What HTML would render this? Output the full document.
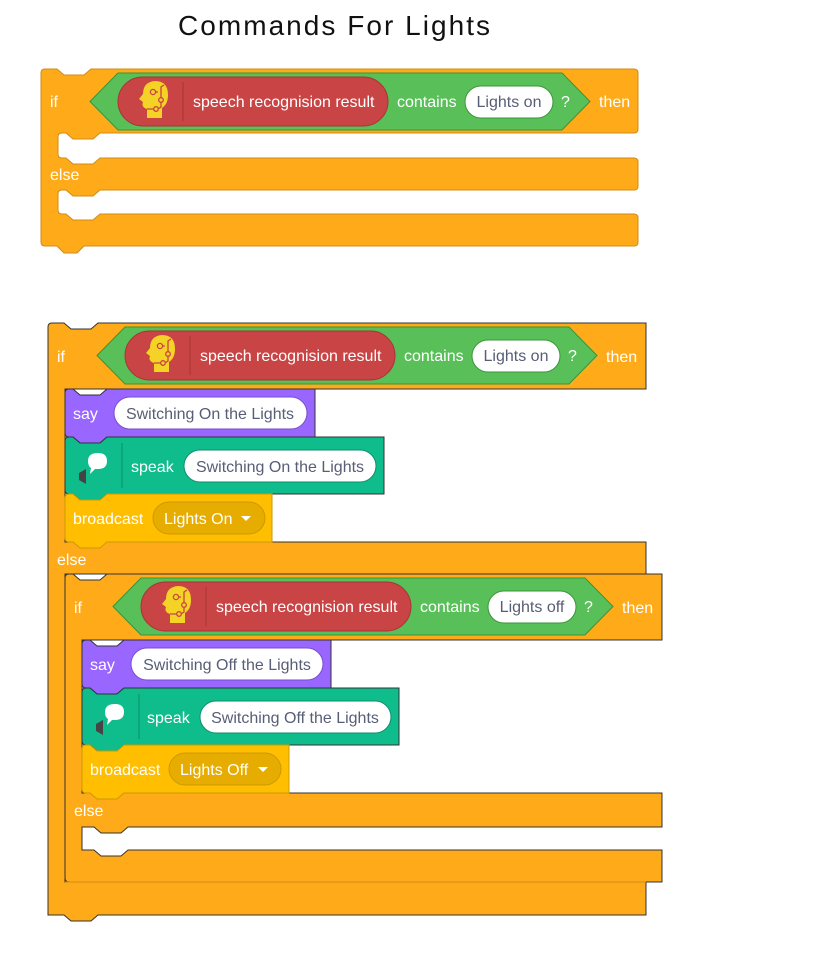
<!DOCTYPE html>
<html><head><meta charset="utf-8"><style>
html,body{margin:0;padding:0;background:#fff;width:819px;height:953px;overflow:hidden}
svg text{font-family:"Liberation Sans",sans-serif}
</style></head><body>
<svg width="819" height="953" viewBox="0 0 819 953" xmlns="http://www.w3.org/2000/svg">
<defs>
<g id="icon">
  <path d="M-8,17 L-8,8 Q-14,6 -12,1 L-16,-2 L-12,-7 Q-12,-19 0,-20 Q13,-20 13,-6 Q13,3 7,7 L7,17 Z" fill="#F5D326"/>
  <circle cx="-2" cy="-9" r="2.6" fill="none" stroke="#C94444" stroke-width="1.3"/>
  <circle cx="6" cy="-1" r="2.3" fill="none" stroke="#C94444" stroke-width="1.3"/>
  <circle cx="1" cy="8" r="2.3" fill="none" stroke="#C94444" stroke-width="1.3"/>
  <path d="M6,-3 L6,-14 L9,-16 M0,-9 L3,-9 M-1,8 L-8,8 M3,8 L6,6 L6,1" fill="none" stroke="#C94444" stroke-width="1.3"/>
</g>
<g id="speakicon">
  <path d="M-12,4 L-5,0 L-5,15 L-12,11 Z" fill="#444"/>
  <path d="M-3,-8 Q-3,-16 7,-16 Q16,-16 16,-8 Q16,0 7,0 L4,0 L-1,5 L0,-1 Q-3,-3 -3,-8 Z" fill="#fff"/>
</g>
</defs>

<text x="178" y="35" font-size="28" textLength="312" lengthAdjust="spacing" fill="#111" style="font-family:'Liberation Sans Narrow','Liberation Sans',sans-serif">Commands For Lights</text>

<!-- ===== Block 1 ===== -->
<g fill="#FFAB19" stroke="#CF8B17" stroke-width="1">
  <path d="M45,69 L57,69 L64,75 L84,75 L91,69 L634,69 Q638,69 638,73 L638,129 Q638,133 634,133 L100,133 L93,139 L73,139 L66,133 L62,133 Q58,133 58,137 L58,154 Q58,158 62,158 L66,158 L73,164 L93,164 L100,158 L634,158 Q638,158 638,162 L638,186 Q638,190 634,190 L100,190 L93,196 L73,196 L66,190 L62,190 Q58,190 58,194 L58,210 Q58,214 62,214 L66,214 L73,220 L93,220 L100,214 L634,214 Q638,214 638,218 L638,242 Q638,246 634,246 L84,246 L77,253 L64,253 L57,246 L45,246 Q41,246 41,242 L41,73 Q41,69 45,69 Z"/>
</g>
<text x="50" y="107" font-size="16" fill="#fff">if</text>
<text x="50" y="180" font-size="16" fill="#fff">else</text>
<text x="599" y="107" font-size="16" fill="#fff">then</text>
<g transform="translate(90,73)">
  <path d="M0,28.5 L28,0 L472,0 L500,28.5 L472,57 L28,57 Z" fill="#59C059" stroke="#389438"/>
  <rect x="28" y="4" width="270" height="49" rx="24.5" fill="#C94444" stroke="#A83535"/>
  <use href="#icon" x="65" y="28"/>
  <line x1="93" y1="9" x2="93" y2="48" stroke="#A83535"/>
  <text x="103" y="34" font-size="16" fill="#fff">speech recognision result</text>
  <text x="307" y="34" font-size="16" fill="#fff">contains</text>
  <rect x="375" y="13" width="88" height="32" rx="16" fill="#fff" stroke="#389438"/>
  <text x="419" y="34" font-size="16" fill="#575E75" text-anchor="middle">Lights on</text>
  <text x="471" y="34" font-size="16" fill="#fff">?</text>
</g>

<!-- ===== Block 2 outer ===== -->
<g fill="#FFAB19" stroke="#333" stroke-width="1">
  <path d="M52,323 L64,323 L71,329 L91,329 L98,323 L646,323 L646,389 L65,389 L65,542 L646,542 L646,574 L65,574 L65,882 L646,882 L646,915 L98,915 L91,921 L71,921 L64,915 L48,915 L48,327 Q48,323 52,323 Z"/>
</g>
<text x="57" y="362" font-size="16" fill="#fff">if</text>
<text x="57" y="565" font-size="16" fill="#fff">else</text>
<text x="606" y="362" font-size="16" fill="#fff">then</text>
<g transform="translate(97,327)">
  <path d="M0,28.5 L28,0 L472,0 L500,28.5 L472,57 L28,57 Z" fill="#59C059" stroke="#389438"/>
  <rect x="28" y="4" width="270" height="49" rx="24.5" fill="#C94444" stroke="#A83535"/>
  <use href="#icon" x="65" y="28"/>
  <line x1="93" y1="9" x2="93" y2="48" stroke="#A83535"/>
  <text x="103" y="34" font-size="16" fill="#fff">speech recognision result</text>
  <text x="307" y="34" font-size="16" fill="#fff">contains</text>
  <rect x="375" y="13" width="88" height="32" rx="16" fill="#fff" stroke="#389438"/>
  <text x="419" y="34" font-size="16" fill="#575E75" text-anchor="middle">Lights on</text>
  <text x="471" y="34" font-size="16" fill="#fff">?</text>
</g>

<!-- say / speak / broadcast (on) -->
<path d="M69,389 L73,389 L80,395 L100,395 L107,389 L315,389 L315,437 L107,437 L100,443 L80,443 L73,437 L69,437 Q65,437 65,433 L65,393 Q65,389 69,389 Z" fill="#9966FF" stroke="#333"/>
<text x="73" y="419" font-size="16" fill="#fff">say</text>
<rect x="114" y="397" width="193" height="32" rx="16" fill="#fff" stroke="#774DCB"/>
<text x="210" y="419" font-size="16" fill="#575E75" text-anchor="middle">Switching On the Lights</text>

<path d="M69,437 L73,437 L80,443 L100,443 L107,437 L384,437 L384,494 L107,494 L100,500 L80,500 L73,494 L69,494 Q65,494 65,490 L65,441 Q65,437 69,437 Z" fill="#0FBD8C" stroke="#333"/>
<use href="#speakicon" x="91" y="469"/>
<line x1="122" y1="443" x2="122" y2="488" stroke="#0B8E69"/>
<text x="131" y="472" font-size="16" fill="#fff">speak</text>
<rect x="184" y="450" width="192" height="32" rx="16" fill="#fff" stroke="#0B8E69"/>
<text x="280" y="472" font-size="16" fill="#575E75" text-anchor="middle">Switching On the Lights</text>

<path d="M69,494 L73,494 L80,500 L100,500 L107,494 L272,494 L272,542 L107,542 L100,548 L80,548 L73,542 L69,542 Q65,542 65,538 L65,498 Q65,494 69,494 Z" fill="#FFBF00" stroke="#CC9900"/>
<text x="73" y="524" font-size="16" fill="#fff">broadcast</text>
<rect x="153" y="502" width="112" height="32" rx="16" fill="#E6AC00" stroke="#CC9900"/>
<text x="164" y="524" font-size="16" fill="#fff">Lights On</text>
<path d="M241,516 L251,516 L246,521 Z" fill="#fff"/>

<!-- ===== inner if ===== -->
<path d="M69,574 L73,574 L80,580 L100,580 L107,574 L662,574 L662,640 L82,640 L82,793 L662,793 L662,827 L128,827 L121,833 L101,833 L94,827 L82,827 L82,850 L94,850 L101,856 L121,856 L128,850 L662,850 L662,882 L69,882 Q65,882 65,878 L65,578 Q65,574 69,574 Z" fill="#FFAB19" stroke="#333"/>
<line x1="65" y1="882" x2="646" y2="882" stroke="#CF8B17"/>
<text x="74" y="613" font-size="16" fill="#fff">if</text>
<text x="74" y="816" font-size="16" fill="#fff">else</text>
<text x="622" y="613" font-size="16" fill="#fff">then</text>
<g transform="translate(113,578)">
  <path d="M0,28.5 L28,0 L472,0 L500,28.5 L472,57 L28,57 Z" fill="#59C059" stroke="#389438"/>
  <rect x="28" y="4" width="270" height="49" rx="24.5" fill="#C94444" stroke="#A83535"/>
  <use href="#icon" x="65" y="28"/>
  <line x1="93" y1="9" x2="93" y2="48" stroke="#A83535"/>
  <text x="103" y="34" font-size="16" fill="#fff">speech recognision result</text>
  <text x="307" y="34" font-size="16" fill="#fff">contains</text>
  <rect x="375" y="13" width="88" height="32" rx="16" fill="#fff" stroke="#389438"/>
  <text x="419" y="34" font-size="16" fill="#575E75" text-anchor="middle">Lights off</text>
  <text x="471" y="34" font-size="16" fill="#fff">?</text>
</g>

<path d="M86,640 L90,640 L97,646 L117,646 L124,640 L331,640 L331,688 L124,688 L117,694 L97,694 L90,688 L86,688 Q82,688 82,684 L82,644 Q82,640 86,640 Z" fill="#9966FF" stroke="#333"/>
<text x="90" y="670" font-size="16" fill="#fff">say</text>
<rect x="131" y="648" width="192" height="32" rx="16" fill="#fff" stroke="#774DCB"/>
<text x="227" y="670" font-size="16" fill="#575E75" text-anchor="middle">Switching Off the Lights</text>

<path d="M86,688 L90,688 L97,694 L117,694 L124,688 L399,688 L399,745 L124,745 L117,751 L97,751 L90,745 L86,745 Q82,745 82,741 L82,692 Q82,688 86,688 Z" fill="#0FBD8C" stroke="#333"/>
<use href="#speakicon" x="108" y="720"/>
<line x1="139" y1="694" x2="139" y2="739" stroke="#0B8E69"/>
<text x="147" y="723" font-size="16" fill="#fff">speak</text>
<rect x="200" y="701" width="191" height="32" rx="16" fill="#fff" stroke="#0B8E69"/>
<text x="295" y="723" font-size="16" fill="#575E75" text-anchor="middle">Switching Off the Lights</text>

<path d="M86,745 L90,745 L97,751 L117,751 L124,745 L289,745 L289,793 L124,793 L117,799 L97,799 L90,793 L86,793 Q82,793 82,789 L82,749 Q82,745 86,745 Z" fill="#FFBF00" stroke="#CC9900"/>
<text x="90" y="775" font-size="16" fill="#fff">broadcast</text>
<rect x="169" y="753" width="112" height="32" rx="16" fill="#E6AC00" stroke="#CC9900"/>
<text x="180" y="775" font-size="16" fill="#fff">Lights Off</text>
<path d="M258,767 L268,767 L263,772 Z" fill="#fff"/>
</svg>
</body></html>
